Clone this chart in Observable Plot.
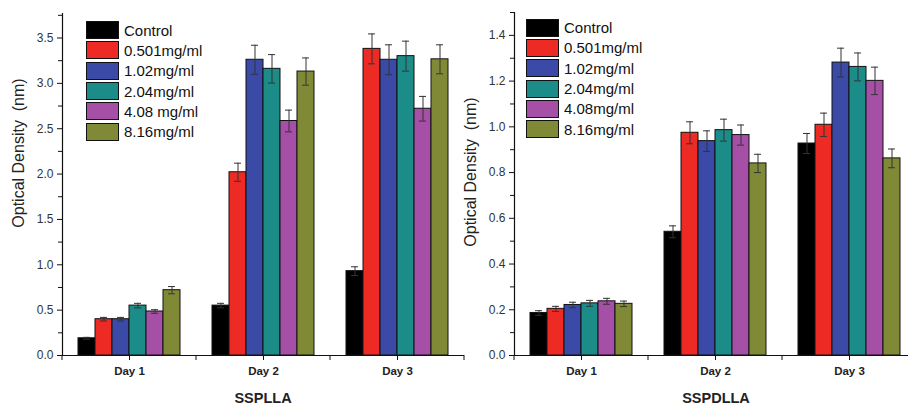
<!DOCTYPE html>
<html><head><meta charset="utf-8">
<script src="https://cdn.jsdelivr.net/npm/d3@7"></script>
<script src="https://cdn.jsdelivr.net/npm/@observablehq/plot@0.6"></script>
<style>
body{margin:0;background:#fff;}
#wrap{position:relative;width:908px;height:410px;overflow:hidden;background:#fff;font-family:"Liberation Sans",Arial,sans-serif;color:#111;}
.panel{position:absolute;top:0;}
.ylab{position:absolute;font-size:16px;white-space:pre;transform:translate(-50%,-50%) rotate(-90deg);color:#222;}
.xlab{position:absolute;font-size:14.5px;font-weight:bold;transform:translate(-50%,-50%);color:#222;}
.legend{position:absolute;}
.legend .row{display:flex;align-items:center;height:20.3px;}
.legend .sw{width:33px;height:18px;border:1px solid #111;box-sizing:border-box;}
.legend .tx{margin-left:5px;font-size:15px;line-height:15px;color:#111;}
</style>
</head><body>
<div id="wrap"></div>
<script>
// ---------- data ----------
const days = ["Day 1", "Day 2", "Day 3"];
const seriesA = ["Control", "0.501mg/ml", "1.02mg/ml", "2.04mg/ml", "4.08 mg/ml", "8.16mg/ml"];
const seriesB = ["Control", "0.501mg/ml", "1.02mg/ml", "2.04mg/ml", "4.08mg/ml", "8.16mg/ml"];
const colors = ["#000000", "#ee2a24", "#3a4aa6", "#1c8c89", "#a54fa6", "#808a36"];

// SSPLLA (left panel): values per day, in series order
const sspllaDay1 = [0.19, 0.40, 0.40, 0.55, 0.485, 0.72];
const sspllaDay2 = [0.55, 2.02, 3.26, 3.16, 2.585, 3.13];
const sspllaDay3 = [0.93, 3.38, 3.26, 3.30, 2.72, 3.265];
const sspllaErr1 = [0.01, 0.02, 0.02, 0.025, 0.02, 0.04];
const sspllaErr2 = [0.025, 0.10, 0.16, 0.157, 0.12, 0.15];
const sspllaErr3 = [0.048, 0.165, 0.165, 0.165, 0.136, 0.16];

// SSPDLLA (right panel)
const sspdllaDay1 = [0.186, 0.204, 0.221, 0.228, 0.237, 0.226];
const sspdllaDay2 = [0.541, 0.974, 0.9375, 0.9855, 0.964, 0.84];
const sspdllaDay3 = [0.927, 1.009, 1.281, 1.262, 1.201, 0.862];
const sspdllaErr1 = [0.01, 0.011, 0.012, 0.013, 0.013, 0.012];
const sspdllaErr2 = [0.026, 0.048, 0.045, 0.048, 0.044, 0.04];
const sspdllaErr3 = [0.044, 0.051, 0.063, 0.061, 0.06, 0.041];

const ticksA = [0, 0.5, 1, 1.5, 2, 2.5, 3, 3.5];
const minorA = [0.25, 0.75, 1.25, 1.75, 2.25, 2.75, 3.25, 3.75];
const ticksB = [0, 0.2, 0.4, 0.6, 0.8, 1.0, 1.2, 1.4];
const minorB = [0.1, 0.3, 0.5, 0.7, 0.9, 1.1, 1.3, 1.5];

function buildRows(series, vals, errs) {
  const rows = [];
  days.forEach((day, i) => series.forEach((s, j) => rows.push({day, series: s, value: vals[i][j], err: errs[i][j]})));
  return rows;
}
const rowsA = buildRows(seriesA, [sspllaDay1, sspllaDay2, sspllaDay3], [sspllaErr1, sspllaErr2, sspllaErr3]);
const rowsB = buildRows(seriesB, [sspdllaDay1, sspdllaDay2, sspdllaDay3], [sspdllaErr1, sspdllaErr2, sspdllaErr3]);

const wrap = document.getElementById("wrap");

function panel(series, rows, yMax, majors, minors, o) {
  const plot = Plot.plot({
    width: o.width, height: 410,
    marginLeft: o.ml, marginRight: o.mr, marginTop: o.mt, marginBottom: o.mb,
    style: {background: "transparent", fontFamily: "Liberation Sans, Arial, sans-serif", fontSize: "12px", color: "#111", overflow: "visible"},
    fx: {domain: days, padding: 0, label: null},
    x: {domain: series, paddingInner: 0, paddingOuter: 0.75, axis: null},
    y: {domain: [0, yMax]},
    color: {domain: series, range: colors},
    marks: [
      Plot.barY(rows, {fx: "day", x: "series", y: "value", fill: "series", stroke: "#111", strokeWidth: 1}),
      Plot.ruleX(rows, {fx: "day", x: "series", y1: d => d.value - d.err, y2: d => d.value + d.err, stroke: "#333", strokeWidth: 1}),
      Plot.tickY(rows, {fx: "day", x: "series", y: d => d.value + d.err, stroke: "#333", insetLeft: 5, insetRight: 5}),
      Plot.tickY(rows, {fx: "day", x: "series", y: d => d.value - d.err, stroke: "#333", insetLeft: 5, insetRight: 5}),
      Plot.ruleY([0], {stroke: "#111", strokeWidth: 1.2}),
      Plot.frame({anchor: "left", facetAnchor: "left", stroke: "#111", strokeWidth: 1.2}),
      Plot.axisY({ticks: majors, tickSize: 5, tickPadding: 4, tickFormat: d3.format(".1f"), label: null, fill: "#333", fontSize: 12}),
      Plot.axisY({ticks: minors, tickSize: 4, tickFormat: () => "", label: null}),
      Plot.axisFx({anchor: "bottom", tickSize: 5, tickPadding: 6, label: null, fontWeight: "bold", fontSize: 11.5, fill: "#222"})
    ]
  });
  plot.classList.add("panel");
  plot.style.left = o.left + "px";
  wrap.appendChild(plot);
  // boundary ticks at the edges of each day group, from the fx scale
  const fxs = plot.scale("fx");
  const band = d3.scaleBand(fxs.domain, fxs.range).paddingInner(0).paddingOuter(0);
  const y0 = plot.scale("y").apply(0);
  const svg = d3.select(plot.tagName.toLowerCase() === "svg" ? plot : plot.querySelector("svg"));
  const edges = days.map(d => band(d)).concat([band(days[days.length - 1]) + band.bandwidth()]);
  svg.append("g").attr("stroke", "#111").attr("stroke-width", 1)
    .selectAll("line").data(edges).join("line")
    .attr("x1", d => d).attr("x2", d => d).attr("y1", y0).attr("y2", y0 + 5);
  return plot;
}

panel(seriesA, rowsA, 3.77, ticksA, minorA, {left: 0, width: 470, ml: 62, mr: 6, mt: 13, mb: 55});
panel(seriesB, rowsB, 1.5, ticksB, minorB, {left: 454, width: 462, ml: 60, mr: 0, mt: 12, mb: 55});

function label(cls, text, x, y) {
  const d = document.createElement("div");
  d.className = cls; d.textContent = text;
  d.style.left = x + "px"; d.style.top = y + "px";
  wrap.appendChild(d);
}
label("ylab", "Optical Density  (nm)", 18.5, 153);
label("ylab", "Optical Density  (nm)", 471, 172);
label("xlab", "SSPLLA", 263, 398);
label("xlab", "SSPDLLA", 716, 398);

function legend(series, x, y) {
  const L = document.createElement("div");
  L.className = "legend"; L.style.left = x + "px"; L.style.top = y + "px";
  series.forEach((s, i) => {
    const r = document.createElement("div"); r.className = "row";
    const sw = document.createElement("div"); sw.className = "sw"; sw.style.background = colors[i];
    const tx = document.createElement("div"); tx.className = "tx"; tx.textContent = s;
    r.appendChild(sw); r.appendChild(tx); L.appendChild(r);
  });
  wrap.appendChild(L);
}
legend(seriesA, 86, 20);
legend(seriesB, 526, 17.5);
</script>
</body></html>
